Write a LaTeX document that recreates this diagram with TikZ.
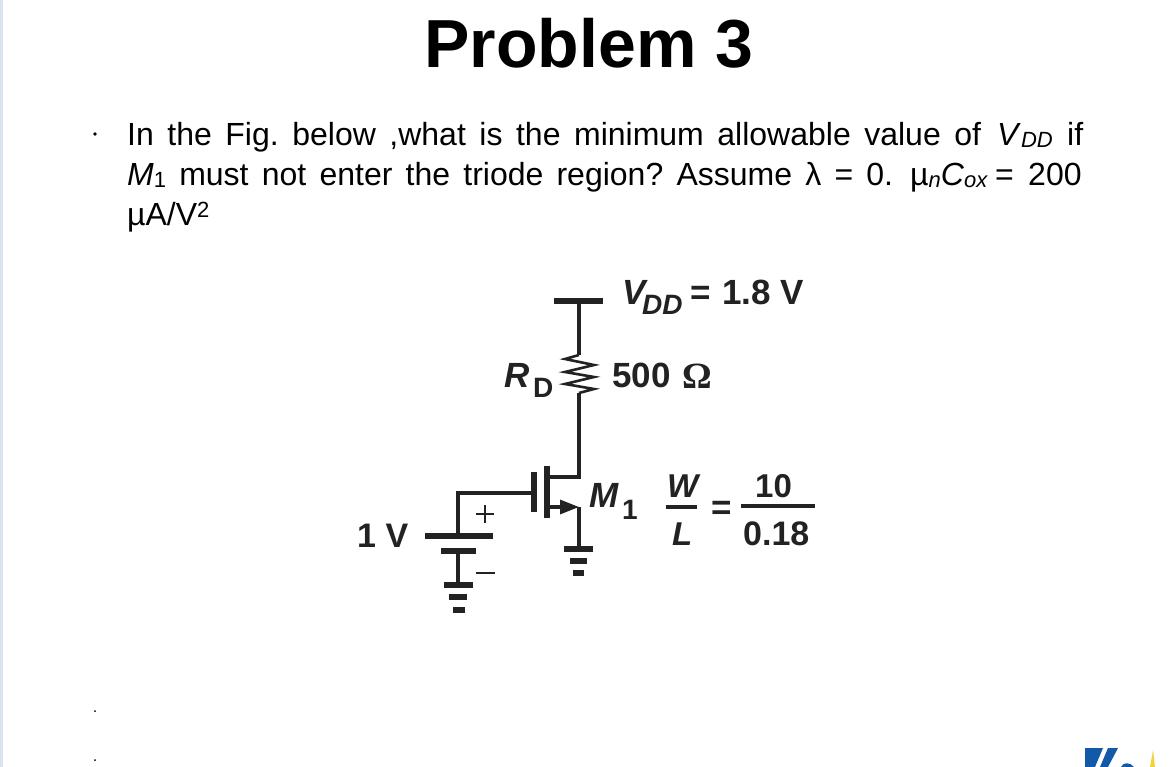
\documentclass[tikz,border=0pt]{standalone}
\usepackage{fontspec}
\setmainfont{Liberation Sans}
\newfontfamily\serifbf{Liberation Serif}
\usetikzlibrary{arrows.meta}
\definecolor{inkdark}{HTML}{222222}
\definecolor{stripblue}{HTML}{DCE3EE}
\definecolor{logoblue}{HTML}{1259A8}
\definecolor{logoyellow}{HTML}{F2D33A}
\newcommand{\fsize}[1]{\fontsize{#1}{#1}\selectfont}
\newcommand{\lowtxt}[1]{\raisebox{-2pt}{\fsize{22}#1}}
\tikzset{
 txt/.style={anchor=base west,inner sep=0pt,font=\fsize{32}},
 lbl/.style={anchor=base west,inner sep=0pt,text=inkdark,font=\fsize{35}\bfseries},
 lblsub/.style={anchor=base west,inner sep=0pt,text=inkdark,font=\fsize{28}\bfseries},
 wire/.style={draw=inkdark,line width=3.2pt},
 plate/.style={draw=inkdark,line width=5.5pt},
 thinmark/.style={draw=inkdark,line width=1.4pt}
}
\begin{document}
\frenchspacing
\begin{tikzpicture}[x=1pt,y=-1pt]
 \useasboundingbox (0,0) rectangle (1170,767);
 \fill[white] (0,0) rectangle (1170,767);
 \fill[stripblue] (0,0) rectangle (3,767);
 \fill[logoblue] (1085,767) -- (1085,748) -- (1103,748) -- (1095,767) -- cycle;
 \fill[logoblue] (1108,748) -- (1118,748) -- (1108,767) -- (1100,767) -- cycle;
 \fill[logoblue] (1121,767) .. controls (1123,762) and (1130,762) .. (1134,767) -- cycle;
 \fill[logoyellow] (1150,767) -- (1153,750) -- (1155,767) -- cycle;
 \fill[black] (95,134) circle (1.8);
 \fill[black] (95,711) circle (1);
 \fill[black] (95,760) circle (1);

 \node[anchor=base,inner sep=0pt,font=\fsize{68}\bfseries] (title) at (589,68) {Problem 3};
 \node[txt] (lineone) at (127,146) {\makebox[854pt][s]{In the Fig. below ,what is the minimum allowable value of}};
 \node[txt] (vddtext) at (997,146) {\textit{V}\lowtxt{\textit{DD}}};
 \node[txt] (iftext) at (1067,146) {if};
 \node[txt] (linetwo) at (127,186) {\makebox[766pt][s]{\textit{M}\lowtxt{1} must not enter the triode region? Assume λ = 0.}};
 \node[txt] (mucox) at (910,186) {µ\lowtxt{\textit{n}}\textit{C}\lowtxt{\textit{ox}}};
 \node[txt] (eqtext) at (995,186) {=};
 \node[txt] (twohundred) at (1028,186) {200};
 \node[txt] (linethree) at (127,226) {µA/V\raisebox{8pt}{\fsize{22}2}};

 \coordinate (vddl) at (554,301);
 \coordinate (vddr) at (603,301);
 \coordinate (vdd) at (579,301);
 \coordinate (rtop) at (579,355);
 \coordinate (rbot) at (579,393);
 \coordinate (drain) at (579,477);
 \coordinate (draini) at (547,477);
 \coordinate (chant) at (547,466);
 \coordinate (chanb) at (547,518);
 \coordinate (gatet) at (534,472);
 \coordinate (gateb) at (534,512);
 \coordinate (gate) at (534,493);
 \coordinate (gatec) at (458,493);
 \coordinate (batp) at (458,536);
 \coordinate (batpl) at (425,536);
 \coordinate (batpr) at (493,536);
 \coordinate (batm) at (458,551);
 \coordinate (batml) at (441,551);
 \coordinate (batmr) at (476,551);
 \coordinate (gnda) at (458,585);
 \coordinate (source) at (579,507);
 \coordinate (sourcei) at (547,507);
 \coordinate (gndb) at (579,549);

 \draw[plate] (vddl) -- (vddr);
 \draw[wire] (vdd) -- (rtop);
 \draw[wire,line width=2.6pt] (rtop) -- (565,359) -- (594,365) -- (565,372) -- (594,377) -- (565,384) -- (594,389) -- (rbot);
 \draw[wire] (rbot) -- (drain) -- (draini);
 \draw[plate] (chant) -- (chanb);
 \draw[plate] (gatet) -- (gateb);
 \draw[wire] (gate) -- (gatec) -- (batp);
 \draw[wire,-{Triangle[length=19pt,width=14pt]}] (sourcei) -- (source);
 \draw[wire] (source) -- (gndb);

 \draw[plate] (batpl) -- (batpr);
 \draw[plate] (batml) -- (batmr);
 \draw[wire] (batm) -- (gnda);

 \draw[plate] (444,585) -- (473,585);
 \draw[plate] (449,597) -- (467,597);
 \draw[plate] (453,610) -- (465,610);
 \draw[plate] (564,549) -- (593,549);
 \draw[plate] (570,561) -- (587,561);
 \draw[plate] (573,573) -- (584,573);

 \draw[thinmark] (476,514) -- (494,514);
 \draw[thinmark] (485,505) -- (485,523);
 \draw[thinmark] (476,573) -- (495,573);

 \node[lbl] (vone) at (357,547) {\fsize{34}1 V};
 \node[lbl] (rdname) at (504,387) {\textit{R}};
 \node[lblsub] (rdsub) at (533,397) {D};
 \node[lbl] (rdval) at (612,387) {500};
 \node[lbl,font=\fsize{37}\serifbf\bfseries] (ohm) at (682,388) {Ω};
 \node[lbl] (vddname) at (622,305) {\textit{V}};
 \node[lblsub] (vddsub) at (642,315) {\textit{DD}};
 \node[lbl] (vddeq) at (690,305) {=};
 \node[lbl] (vddval) at (722,305) {1.8 V};
 \node[lbl] (mname) at (589,507) {\textit{M}};
 \node[lblsub] (msub) at (622,519) {1};
 \node[lbl,font=\fsize{33}\bfseries] (wname) at (667,497) {\textit{W}};
 \node[lbl,font=\fsize{33}\bfseries] (lname) at (672,545) {\textit{L}};
 \node[lbl] (eqsign) at (711,519) {=};
 \node[lbl,font=\fsize{33}\bfseries] (ten) at (755,497) {10};
 \node[lbl,font=\fsize{34}\bfseries] (frac) at (743,545) {0.18};
 \coordinate (wla) at (666,507);
 \coordinate (wlb) at (697,507);
 \coordinate (fra) at (741,506);
 \coordinate (frb) at (815,506);
 \draw[wire] (wla) -- (wlb);
 \draw[wire] (fra) -- (frb);
\end{tikzpicture}
\end{document}
